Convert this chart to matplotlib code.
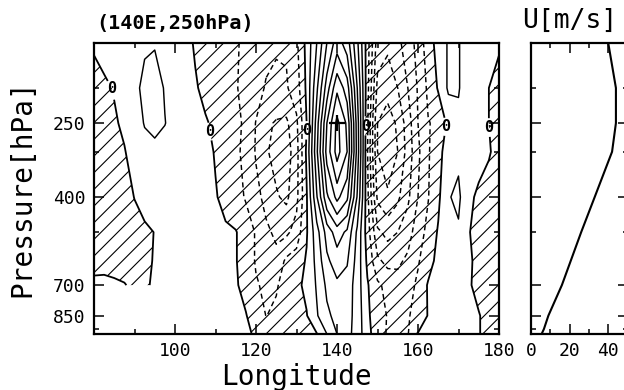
import numpy as np
import matplotlib
matplotlib.use("Agg")
import matplotlib.pyplot as plt
from matplotlib.ticker import FixedLocator, NullFormatter, FuncFormatter

NA = np.nan

# ---------------- data ----------------
lon = np.arange(80, 180.1, 2.5)          # 41 longitudes
plev = [150, 200, 250, 300, 400, 500, 600, 700, 850, 955]

row150 = [0.1, 0.3, 0.5, 0.6, 0.75, 0.9, 0.95, 0.85, 0.6, 0.3, -0.1, -0.4, -0.6, -0.8, -0.95, -1.1, -1.4, -1.7, -1.9, -1.9,
          -1.2, 0.3, 2.0, 4.0, 5.5, 4.5, 2.2, -0.5, -3.5, -3.8, -3.2, -2.6, -1.6, -0.5, 0.4, 1.1, 1.05, 0.6, 0.3, 0.15, 0.1]
row200 = [-0.3, -0.15, 0.05, 0.4, 0.8, 1.2, 1.3, 0.95, 0.7, 0.45, 0.1, -0.25, -0.5, -0.75, -0.95, -1.2, -1.6, -2.1, -2.2, -2.1,
          -1.5, 0.2, 2.8, 5.5, 7.8, 6.5, 3.0, -0.6, -4.3, -4.6, -4.0, -3.0, -1.9, -0.8, 0.1, 1.15, 1.05, 0.6, 0.3, 0.0, -0.3]
row250 = [-0.5, -0.35, -0.1, 0.15, 0.6, 1.05, 1.2, 1.02, 0.75, 0.55, 0.35, 0.1, -0.2, -0.5, -0.8, -1.15, -2.05, -2.8, -3.1, -3.2,
          -2.2, 0.0, 3.5, 7.0, 9.3, 7.8, 3.5, -0.8, -5.0, -5.6, -4.8, -3.5, -2.0, -1.05, -0.8, 0.25, 0.85, 0.75, 0.5, 0.0, -0.4]
row300 = [-0.6, -0.5, -0.3, -0.05, 0.35, 0.7, 0.8, 0.75, 0.7, 0.55, 0.4, 0.2, -0.05, -0.45, -0.85, -1.2, -2.1, -2.9, -3.3, -3.5,
          -2.4, 0.2, 3.8, 7.4, 9.4, 8.0, 3.6, -0.9, -5.0, -5.7, -5.0, -3.6, -2.2, -1.1, -0.4, 0.6, 0.85, 0.8, 0.55, 0.1, -0.4]
row400 = [-0.6, -0.55, -0.45, -0.3, 0.02, 0.3, 0.5, 0.55, 0.5, 0.45, 0.35, 0.2, 0.05, -0.2, -0.6, -1.1, -1.7, -2.3, -2.9, -3.2,
          -2.3, -0.1, 2.9, 5.8, 7.3, 6.2, 2.9, -0.7, -4.2, -4.8, -4.2, -3.2, -2.0, -1.05, -0.2, 0.95, 1.15, 0.35, -0.3, -0.5, -0.7]
row500 = [-0.6, -0.6, -0.55, -0.45, -0.3, -0.15, 0.02, 0.2, 0.35, 0.4, 0.4, 0.35, 0.25, 0.1, 0.05, -0.4, -1.1, -1.8, -2.2, -2.2,
          -1.6, -0.1, 1.6, 3.4, 4.5, 3.8, 1.8, -0.5, -2.8, -3.3, -3.0, -2.4, -1.5, -0.7, 0.1, 0.6, 0.9, 0.05, -0.3, -0.5, -0.7]
row600 = [-0.5, -0.5, -0.45, -0.4, -0.3, -0.15, 0.05, 0.2, 0.3, 0.35, 0.35, 0.3, 0.25, 0.15, 0.05, -0.4, -1.1, -1.6, -1.7, -0.8,
          -0.5, 0.1, 1.3, 2.8, 3.5, 3.1, 1.6, -0.2, -1.8, -2.3, -2.2, -1.8, -1.1, -0.4, 0.3, 0.5, 0.55, 0.15, -0.25, -0.5, -0.6]
row700 = [0.35, 0.4, 0.2, 0.05, -0.2, -0.1, 0.1, 0.2, 0.25, 0.3, 0.3, 0.3, 0.25, 0.2, 0.1, -0.3, -0.9, -1.2, -1.1, -0.6,
          -0.2, 0.2, 1.1, 2.2, 2.8, 2.6, 1.5, 0.1, -0.8, -1.3, -1.6, -1.4, -0.8, 0.1, 0.4, 0.5, 0.5, 0.1, -0.25, -0.5, -0.6]
row850 = [NA] * 14 + [0.2, 0.05, -0.5, -1.02, -0.8, -0.4, -0.2, -0.05, 0.9, 1.8, 2.3, 2.4, 1.6, 0.2, -0.6, -1.05, -1.2, -1.1,
                      -0.6, 0.05, 0.3, 0.45, 0.45, 0.2, 0.05, -0.3, -0.5]
row955 = [NA] * 14 + [0.3, 0.2, -0.15, -0.5, -0.5, -0.4, -0.3, -0.2, -0.05, 1.0, 2.0, 2.3, 1.6, 0.3, -0.5, -1.1, -1.2, -1.05,
                      0.05, 0.2, 0.25, 0.4, 0.4, 0.2, 0.05, -0.3, -0.5]

neg_levels = [-6, -5, -4, -3, -2, -1]
pos_levels = [1, 2, 3, 4, 5, 6, 7, 8, 9]

forcing_lon = 140
forcing_p = 250

u_p = [150, 200, 250, 300, 400, 500, 700, 850, 925, 955]
u_val = [40, 44, 44, 42, 33, 26, 16, 9, 6.7, 5.5]

xticks_major = [100, 120, 140, 160, 180]
xticks_minor = [90, 110, 130, 150, 170]
yticks_major = [250, 400, 700, 850]
yticks_minor = [200, 300, 500, 925]
u_ticks_major = [0, 20, 40]
u_ticks_minor = [10, 30, 50]

# ---------------- style ----------------
plt.rcParams["font.family"] = ["DejaVu Sans Mono"]
plt.rcParams["hatch.color"] = "black"
plt.rcParams["hatch.linewidth"] = 0.8

Z = np.ma.masked_invalid(np.array([row150, row200, row250, row300, row400,
                                    row500, row600, row700, row850, row955]))

fig = plt.figure(figsize=(6.24, 3.90), dpi=100)
W, H = 624.0, 390.0
ax = fig.add_axes([94 / W, 1 - 334 / H, 405 / W, 291.3 / H])
ax2 = fig.add_axes([531 / W, 1 - 334 / H, 96.5 / W, 291.3 / H])

ax.contourf(lon, plev, Z, levels=[-50, 0], colors="none", hatches=["//"])
ax.contour(lon, plev, Z, levels=neg_levels, colors="k", linewidths=1.05,
           linestyles=[(0, (3.5, 2.5))])
ax.contour(lon, plev, Z, levels=pos_levels, colors="k", linewidths=1.05,
           linestyles="solid")
cs0 = ax.contour(lon, plev, Z, levels=[0], colors="k", linewidths=1.3,
                 linestyles="solid")
zero_labels = ax.clabel(cs0, fmt={0: "0"}, fontsize=11, inline=True,
                        inline_spacing=1,
                        manual=[(84.7, 200), (108.4, 265), (132, 262), (147.2, 255),
                                (166.8, 256), (177.3, 258)])
for t in zero_labels:
    t.set_fontweight("bold")
    t.set_rotation(0)
ax.plot([forcing_lon], [forcing_p], marker="+", color="k", markersize=12,
        markeredgewidth=1.6, linestyle="none")

for a in (ax, ax2):
    a.set_yscale("log")
    a.set_ylim(955, 150)
    a.yaxis.set_major_locator(FixedLocator(yticks_major))
    a.yaxis.set_minor_locator(FixedLocator(yticks_minor))
    a.yaxis.set_minor_formatter(NullFormatter())
    a.tick_params(which="both", direction="in", top=True, right=True,
                  width=1.1, labelsize=13)
    a.tick_params(which="major", length=7)
    a.tick_params(which="minor", length=3.8)
    for s in a.spines.values():
        s.set_linewidth(1.6)

ax.set_xlim(80, 180)
ax.xaxis.set_major_locator(FixedLocator(xticks_major))
ax.xaxis.set_minor_locator(FixedLocator(xticks_minor))
ax.yaxis.set_major_formatter(FuncFormatter(lambda v, p: f"{v:.0f}"))
ax.tick_params(axis="x", which="major", pad=6)
ax.tick_params(axis="y", which="major", pad=6)

ax2.plot(u_val, u_p, color="k", linewidth=1.5)
ax2.set_xlim(0, 50)
ax2.xaxis.set_major_locator(FixedLocator(u_ticks_major))
ax2.xaxis.set_minor_locator(FixedLocator(u_ticks_minor))
ax2.yaxis.set_major_formatter(NullFormatter())
ax2.tick_params(axis="x", which="major", pad=6)

ax.set_xlabel("Longitude", fontsize=20, labelpad=2)
ax.set_ylabel("Pressure[hPa]", fontsize=20, labelpad=12)
ax.text(0.005, 1.035, "(140E,250hPa)", transform=ax.transAxes, fontsize=14.5,
        fontweight="bold", ha="left", va="bottom")
fig.text(522 / W, 1 - 21 / H, "U[m/s]", fontsize=19, ha="left", va="center")

fig.savefig("out.png", dpi=100)
